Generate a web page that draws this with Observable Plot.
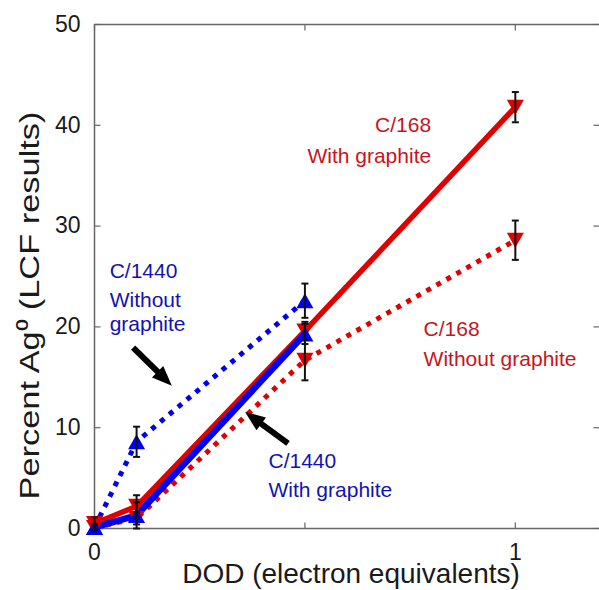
<!DOCTYPE html>
<html><head><meta charset="utf-8">
<script src="https://cdn.jsdelivr.net/npm/d3@7"></script>
<script src="https://cdn.jsdelivr.net/npm/@observablehq/plot@0.6"></script>
<style>
body{margin:0;background:#fff;}
#chart svg{display:block;}
</style></head><body><div id="chart"></div>
<script>
// ---- data ----
const dod = [0, 0.1, 0.5, 1];
const c168With = [0.5, 2.2, 19.6, 41.8];
const c168WithErr = [0.6, 1.1, 0.9, 1.5];
const c168Without = [0.1, 1.0, 16.7, 28.6];
const c168WithoutErr = [0.3, 0.6, 2.0, 1.95];
const dod1440 = [0, 0.1, 0.5];
const c1440With = [0.1, 1.3, 19.3];
const c1440WithErr = [0.3, 1.3, 1.0];
const c1440Without = [0.1, 8.6, 22.6];
const c1440WithoutErr = [0.3, 1.5, 1.7];

const xTicks = [0, 0.5, 1];
const xTickLabels = ["0", "", "1"];
const yTicks = [0, 10, 20, 30, 40, 50];
const xLabel = "DOD (electron equivalents)";
const yLabel = "Percent Ag\u2070 (LCF results)";

// annotation texts (data coordinates of baseline)
const noteText = ["C/168", "With graphite", "C/1440", "Without", "graphite", "C/168", "Without graphite", "C/1440", "With graphite"];
const noteX = [0.80, 0.80, 0.036, 0.036, 0.036, 0.782, 0.782, 0.4135, 0.4135];
const noteY = [39.3, 36.3, 24.9, 22.0, 19.6, 19.1, 16.1, 6.05, 3.17];
const noteAnchor = ["end", "end", "start", "start", "start", "start", "start", "start", "start"];
const noteSeries = ["red", "red", "blue", "blue", "blue", "red", "red", "blue", "blue"];

// arrows (tail -> tip)
const arrowX1 = [0.093, 0.461];
const arrowY1 = [17.9, 8.4];
const arrowX2 = [0.185, 0.359];
const arrowY2 = [14.1, 11.5];

// ---- build tables ----
const RED = "#e00000", BLUE = "#0000f0";
const TXT = {red: "#c8141c", blue: "#1212b4"};
function rows(xs, ys, es, key) { return xs.map((x, i) => ({x, y: ys[i], err: es[i], key})); }
const s168w = rows(dod, c168With, c168WithErr, "168w");
const s168o = rows(dod, c168Without, c168WithoutErr, "168o");
const s1440w = rows(dod1440, c1440With, c1440WithErr, "1440w");
const s1440o = rows(dod1440, c1440Without, c1440WithoutErr, "1440o");
const all = [...s168o, ...s1440o, ...s168w, ...s1440w];
const notes = noteText.map((t, i) => ({t, x: noteX[i], y: noteY[i], a: noteAnchor[i], c: TXT[noteSeries[i]]}));
const arrows = arrowX1.map((x1, i) => ({x1, y1: arrowY1[i], x2: arrowX2[i], y2: arrowY2[i]}));

// custom symbols
const triUp = {draw(c) { c.moveTo(0, -7.5); c.lineTo(8.5, 7.5); c.lineTo(-8.5, 7.5); c.closePath(); }};
const triDown = {draw(c) { c.moveTo(0, 7.5); c.lineTo(8.5, -7.5); c.lineTo(-8.5, -7.5); c.closePath(); }};
const cap = {draw(c) { c.moveTo(-3.5, 0); c.lineTo(3.5, 0); }};
const tickR = {draw(c) { c.moveTo(0, 0); c.lineTo(6, 0); }};
const tickL = {draw(c) { c.moveTo(0, 0); c.lineTo(-6, 0); }};
const tickU = {draw(c) { c.moveTo(0, 0); c.lineTo(0, -6); }};
const tickD = {draw(c) { c.moveTo(0, 0); c.lineTo(0, 6); }};

const FRAME = "#666";
const font = "'Liberation Sans', Arial, sans-serif";

const chart = Plot.plot({
  width: 599, height: 590,
  marginLeft: 94, marginRight: 0, marginTop: 24, marginBottom: 62,
  style: {fontFamily: font, background: "#fff", color: "#1a1a1a"},
  x: {domain: [0, 1.2]},
  y: {domain: [0, 50]},
  marks: [
    // frame
    Plot.ruleX([0], {stroke: FRAME, strokeWidth: 1.5}),
    Plot.ruleY([0, 50], {stroke: FRAME, strokeWidth: 1.5}),
    // inward tick marks
    Plot.dot(yTicks, {x: 0, y: d => d, symbol: tickR, stroke: FRAME, strokeWidth: 1.2}),
    Plot.dot(yTicks, {x: 1.2, y: d => d, symbol: tickL, stroke: FRAME, strokeWidth: 1.2}),
    Plot.dot(xTicks, {x: d => d, y: 0, symbol: tickU, stroke: FRAME, strokeWidth: 1.2}),
    Plot.dot(xTicks, {x: d => d, y: 50, symbol: tickD, stroke: FRAME, strokeWidth: 1.2}),
    // tick labels
    Plot.axisY({ticks: yTicks, tickSize: 0, tickPadding: 14, fontSize: 23, label: null}),
    Plot.axisX({ticks: xTicks, tickSize: 0, tickPadding: 15, fontSize: 23, label: null,
      tickFormat: d => xTickLabels[xTicks.indexOf(d)]}),
    // axis titles
    Plot.text([xLabel], {text: d => d, frameAnchor: "bottom", dx: 4, dy: 54, lineAnchor: "bottom", fontSize: 28, fill: "#1a1a1a"}),
    Plot.text([yLabel], {text: d => d, frameAnchor: "left", textAnchor: "middle", rotate: -90, dx: -56, dy: 29,
      lineAnchor: "bottom", fontSize: 27, fill: "#1a1a1a", className: "ylab"}),
    // dotted lines
    Plot.line(s168o, {x: "x", y: "y", stroke: RED, strokeWidth: 5, strokeDasharray: "5,6.5", strokeLinecap: "butt"}),
    Plot.line(s1440o, {x: "x", y: "y", stroke: BLUE, strokeWidth: 5, strokeDasharray: "5,6.5", strokeLinecap: "butt"}),
    // solid lines
    Plot.line(s168w, {x: "x", y: "y", stroke: RED, strokeWidth: 5.5, strokeLinejoin: "round"}),
    Plot.line(s1440w, {x: "x", y: "y", stroke: BLUE, strokeWidth: 6.5, strokeLinejoin: "round"}),
    // markers
    Plot.dot([...s168o, ...s168w], {x: "x", y: "y", symbol: triDown, fill: RED, r: 1}),
    Plot.dot([...s1440o, ...s1440w], {x: "x", y: "y", symbol: triUp, fill: BLUE, r: 1}),
    // error bars
    Plot.ruleX(all, {x: "x", y1: d => d.y - d.err, y2: d => d.y + d.err, stroke: "#111", strokeWidth: 2}),
    Plot.dot(all, {x: "x", y: d => d.y + d.err, symbol: cap, stroke: "#111", strokeWidth: 2}),
    Plot.dot(all, {x: "x", y: d => d.y - d.err, symbol: cap, stroke: "#111", strokeWidth: 2}),
    // arrows with filled heads
    Plot.link(arrows, {x1: "x1", y1: "y1", x2: "x2", y2: "y2", stroke: "black", strokeWidth: 6,
      render(index, scales, values) {
        const ns = "http://www.w3.org/2000/svg";
        const g = document.createElementNS(ns, "g");
        for (const i of index) {
          const ax = values.x1[i], ay = values.y1[i], bx = values.x2[i], by = values.y2[i];
          const L = Math.hypot(bx - ax, by - ay), ux = (bx - ax) / L, uy = (by - ay) / L;
          const hl = 20, hw = 8;
          const sx = bx - ux * (hl - 2), sy = by - uy * (hl - 2);
          const line = document.createElementNS(ns, "line");
          line.setAttribute("x1", ax); line.setAttribute("y1", ay);
          line.setAttribute("x2", sx); line.setAttribute("y2", sy);
          line.setAttribute("stroke", "black"); line.setAttribute("stroke-width", 6);
          g.appendChild(line);
          const bx0 = bx - ux * hl, by0 = by - uy * hl;
          const poly = document.createElementNS(ns, "polygon");
          poly.setAttribute("points", `${bx},${by} ${bx0 - uy * hw},${by0 + ux * hw} ${bx0 + uy * hw},${by0 - ux * hw}`);
          poly.setAttribute("fill", "black");
          g.appendChild(poly);
        }
        return g;
      }}),
    // annotations
    Plot.text(notes.filter(d => d.a === "end"), {x: "x", y: "y", text: "t", fill: "c", textAnchor: "end", lineAnchor: "bottom", fontSize: 21}),
    Plot.text(notes.filter(d => d.a === "start"), {x: "x", y: "y", text: "t", fill: "c", textAnchor: "start", lineAnchor: "bottom", fontSize: 21})
  ]
});
// the reference's vertical title is drawn elongated along its run
chart.querySelectorAll(".ylab text").forEach(t => {
  t.setAttribute("textLength", 388);
  t.setAttribute("lengthAdjust", "spacingAndGlyphs");
});
document.getElementById("chart").appendChild(chart);
</script>
</body></html>
